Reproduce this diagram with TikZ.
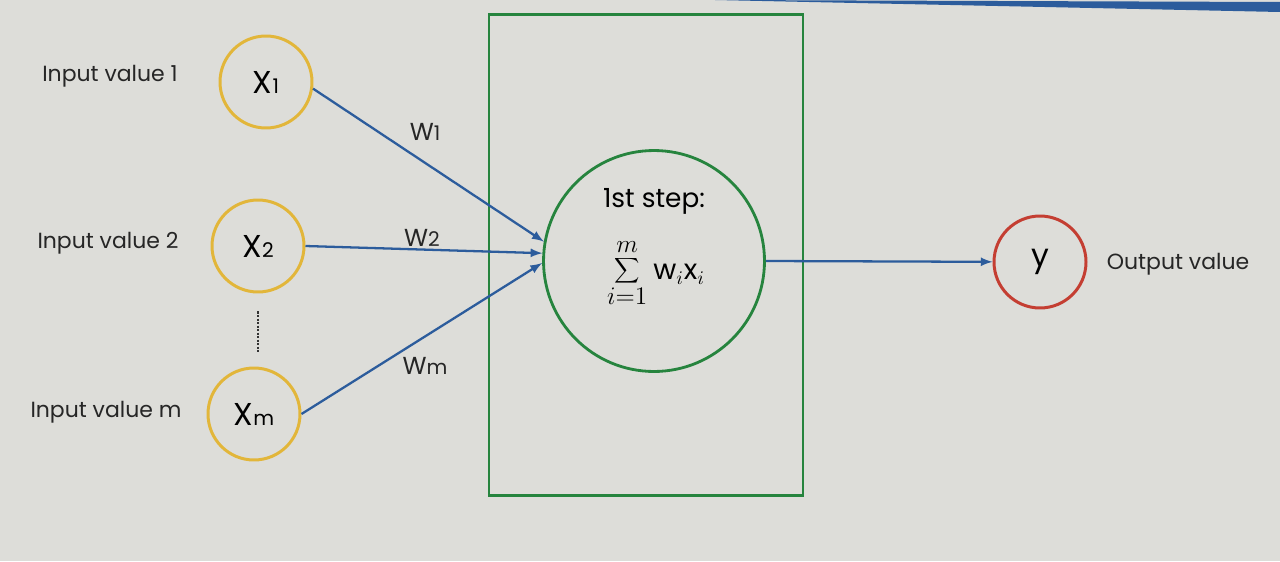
\documentclass[tikz,border=0pt]{standalone}
\usepackage{fontspec}
\setmainfont{Poppins}
\usetikzlibrary{positioning}
\definecolor{screen}{RGB}{221,221,217}
\definecolor{inyellow}{RGB}{226,182,58}
\definecolor{wblue}{RGB}{44,92,156}
\definecolor{sgreen}{RGB}{38,132,62}
\definecolor{outred}{RGB}{196,62,50}
\tikzset{input/.style={circle, draw=inyellow, line width=1.7pt, minimum size=1.84cm, font=\fontsize{18}{20}\selectfont},
  line/.style={-latex, draw=wblue, line width=1.3pt},
  caption/.style={font=\fontsize{12.5}{15}\selectfont, text=black!85},
  weight/.style={font=\fontsize{14}{16}\selectfont, text=black!85}}
\newcommand{\idx}[1]{{\fontsize{11.5}{13}\selectfont #1}}

\begin{document}
\begin{tikzpicture}[x=0.02cm, y=-0.02cm]
    \fill[screen] (0,0) rectangle (1280,561);
    \useasboundingbox (0,0) rectangle (1280,561);
    \fill[wblue] (715,0) -- (1280,2) -- (1280,12) -- cycle;

    % inputs
    \node[input] (x1) at (266,82)  {X\idx{1}};
    \node[input] (x2) at (258,246) {X\idx{2}};
    \node[input] (xm) at (254,414) {X\idx{m}};
    \node[caption] (in1) at (110,76)  {Input value 1};
    \node[caption] (in2) at (108,243) {Input value 2};
    \node[caption] (inm) at (106,412) {Input value m};
    \draw[black!80, line width=1.2pt, dash pattern=on 1.2pt off 0.8pt, shorten <=0.36cm, shorten >=0.3cm]
        (x2.south) -- (x2.south |- xm.north);

    % first step
    \node[draw=sgreen, line width=1.6pt, minimum width=6.28cm, minimum height=9.62cm] (stepbox) at (646,255) {};
    \node[circle, draw=sgreen, line width=1.6pt, minimum size=4.42cm] (sum) at (654,261) {};
    \node[inner sep=0pt, font=\fontsize{15}{17}\selectfont] (steptext) at (654,201) {1st step:};
    \node[inner sep=0pt] (formula) at (656,273)
        {\fontsize{21}{23}\selectfont$\displaystyle\sum_{i=1}^{m}$\,{\fontsize{16}{18}\selectfont$\mathrm{w}_i\mathrm{x}_i$}};

    % output
    \node[circle, draw=outred, line width=1.7pt, minimum size=1.84cm, font=\fontsize{18}{20}\selectfont] (y) at (1040,262) {y};
    \node[caption] (out) at (1178,264) {Output value};

    \node[weight] (w1) at (425,132) {W\idx{1}};
    \node[weight] (w2) at (422,238) {W\idx{2}};
    \node[weight] (wm) at (425,366) {W\idx{m}};

    \draw[line] (x1.-8) -- (sum.170);
    \draw[line] (x2.east) -- (sum.176);
    \draw[line] (xm.east) -- (sum.181);
    \draw[line] (sum.east) -- (y);
\end{tikzpicture}
\end{document}
